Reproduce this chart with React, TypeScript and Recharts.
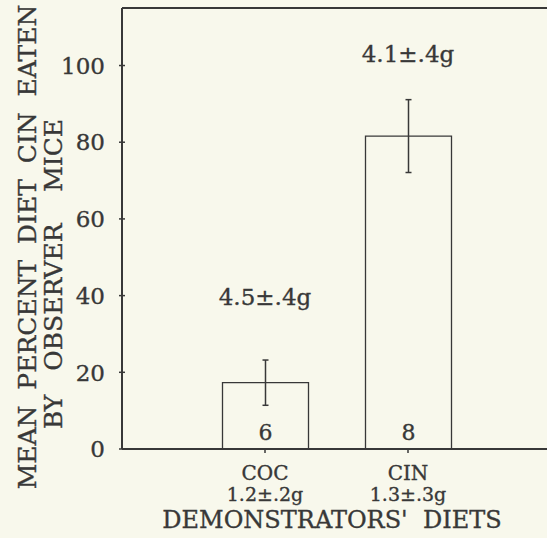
import { ComposedChart, Bar, Scatter, ErrorBar, LabelList, XAxis, YAxis, ReferenceLine } from 'recharts';

const diets = ['COC', 'CIN'];
const dietWeights = ['1.2±.2g', '1.3±.3g'];
const percentEaten = [17.3, 81.6];
const errors = [5.9, 9.5];
const nMice = [6, 8];
const observerWeights = ['4.5±.4g', '4.1±.4g'];
const noteHeights = [37.5, 101];
const yTicks = [0, 20, 40, 60, 80, 100];

const data = diets.map((d, i) => ({
  pos: i + 1,
  diet: d,
  weight: dietWeights[i],
  pct: percentEaten[i],
  err: errors[i],
  n: nMice[i],
  note: observerWeights[i],
  noteY: noteHeights[i],
}));

const INK = '#383838';
const BG = '#f8f8ec';
const FONT = '"DejaVu Serif", serif';
// thin outline to get the heavier print look
const inked = { stroke: INK, strokeWidth: 0.35 };

const YTick = (props: any) => {
  const { x, y, payload } = props;
  return (
    <g>
      <line x1={x - 3} x2={x + 3} y1={y} y2={y} stroke={INK} strokeWidth={1.5} />
      <text x={x - 17} y={y} dy="0.36em" textAnchor="end" fontSize={23} fill={INK} fontFamily={FONT} {...inked}>
        {payload.value}
      </text>
    </g>
  );
};

const XTick = (props: any) => {
  const { x, y, payload } = props;
  const row = data.find((d) => d.pos === payload.value);
  if (!row) return null;
  return (
    <g>
      <line x1={x} x2={x} y1={y} y2={y + 4} stroke={INK} strokeWidth={1.5} />
      <text x={x} y={y + 31} textAnchor="middle" fontSize={20} fill={INK} fontFamily={FONT} {...inked}>
        {row.diet}
      </text>
      <text x={x} y={y + 52} textAnchor="middle" fontSize={19} fill={INK} fontFamily={FONT} {...inked}>
        {row.weight}
      </text>
    </g>
  );
};

const YLabel = (props: any) => {
  const { x, y } = props.viewBox;
  const x1 = x - 26;
  const y1 = y + 239;
  const x2 = x;
  const y2 = y + 266;
  return (
    <g fill={INK} fontFamily={FONT} fontSize={25} textAnchor="middle" {...inked}>
      <text x={x1} y={y1} transform={`rotate(-90, ${x1}, ${y1})`} style={{ whiteSpace: 'pre' }}>
        {'MEAN  PERCENT  DIET  CIN  EATEN'}
      </text>
      <text x={x2} y={y2} transform={`rotate(-90, ${x2}, ${y2})`} style={{ whiteSpace: 'pre' }}>
        {'BY   OBSERVER    MICE'}
      </text>
    </g>
  );
};

const XLabel = (props: any) => {
  const { y } = props.viewBox;
  return (
    <text x={332} y={y + 79} textAnchor="middle" fontSize={24} fill={INK} fontFamily={FONT} style={{ whiteSpace: 'pre' }} {...inked}>
      {"DEMONSTRATORS'  DIETS"}
    </text>
  );
};

const NoteShape = (props: any) => (
  <text x={props.cx} y={props.cy} textAnchor="middle" fontSize={23} fill={INK} fontFamily={FONT} {...inked}>
    {props.payload.note}
  </text>
);

export default function App() {
  return (
    <div style={{ position: 'absolute', left: 0, top: 0, width: 547, height: 538, overflow: 'hidden', background: BG }}>
      <ComposedChart
        width={560}
        height={538}
        data={data}
        margin={{ top: 8, right: 9, bottom: 0, left: 62 }}
        style={{ background: BG }}
      >
        <XAxis
          dataKey="pos"
          type="number"
          domain={[0, 3]}
          ticks={[1, 2]}
          height={89}
          stroke={INK}
          strokeWidth={2}
          tickLine={false}
          tickSize={0}
          tickMargin={0}
          tick={<XTick />}
          label={<XLabel />}
        />
        <YAxis
          type="number"
          domain={[0, 115]}
          ticks={yTicks}
          width={60}
          stroke={INK}
          strokeWidth={2}
          tickLine={false}
          tickSize={0}
          tickMargin={0}
          tick={<YTick />}
          label={<YLabel />}
        />
        <ReferenceLine y={115} stroke={INK} strokeWidth={2} />
        <Bar dataKey="pct" barSize={86} fill={BG} stroke={INK} strokeWidth={1.3} isAnimationActive={false}>
          <ErrorBar dataKey="err" width={3} stroke={INK} strokeWidth={1.5} direction="y" />
          <LabelList dataKey="n" position="insideBottom" offset={9} fontSize={22} fill={INK} fontFamily={FONT} {...inked} />
        </Bar>
        <Scatter dataKey="noteY" shape={<NoteShape />} isAnimationActive={false} />
      </ComposedChart>
    </div>
  );
}
